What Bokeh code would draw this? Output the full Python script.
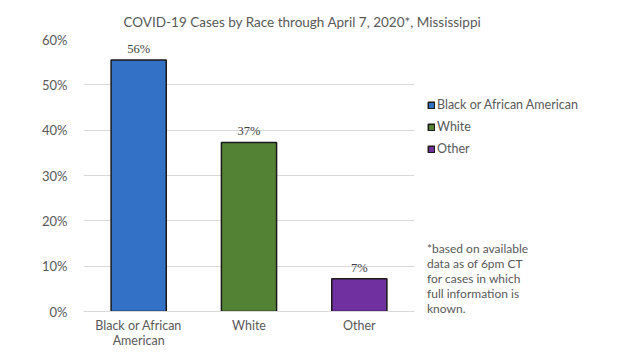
from bokeh.plotting import figure
from bokeh.models import ColumnDataSource, LabelSet, Legend, LegendItem, NumeralTickFormatter, FixedTicker, Range1d
from bokeh.embed import file_html
from bokeh.resources import INLINE

categories = ["Black or African\nAmerican", "White", "Other"]
legend_names = ["Black or African American", "White", "Other"]
shares = [0.555, 0.373, 0.072]
colors = ["#3271C6", "#548235", "#7030A0"]
y_ticks = [0, 0.1, 0.2, 0.3, 0.4, 0.5, 0.6]
title_text = "COVID-19 Cases by Race through April 7, 2020*, Mississippi"
footnote = "*based on available\ndata as of 6pm CT\nfor cases in which\nfull information is\nknown."

FONT = "Lato"
GRAY = "#595959"

src = ColumnDataSource(dict(cat=categories, val=shares, color=colors, name=legend_names,
                            lab=[f"{round(v*100)}%" for v in shares]))

p = figure(x_range=categories, frame_width=331, frame_height=272, output_backend="svg",
           toolbar_location=None, min_border_left=83, min_border_right=208,
           min_border_top=39, min_border_bottom=41)
p.y_range = Range1d(0, 0.6)
p.outline_line_color = None
p.background_fill_color = "white"

p.title.text = title_text
p.title.align = "left"
p.title.offset = 40
p.title.standoff = 19
p.title.text_font = FONT
p.title.text_font_size = "13.5px"
p.title.text_font_style = "normal"
p.title.text_color = GRAY

r = p.vbar(x="cat", top="val", width=0.5, source=src, fill_color="color",
           line_color="#1a1a1a", line_width=1.5)

p.xgrid.grid_line_color = None
p.ygrid.grid_line_color = "#d9d9d9"
p.ygrid.grid_line_width = 1

p.yaxis.ticker = FixedTicker(ticks=y_ticks)
p.yaxis.formatter = NumeralTickFormatter(format="0%")
p.yaxis.axis_line_color = None
p.yaxis.major_tick_line_color = None
p.yaxis.minor_tick_line_color = None
p.yaxis.major_label_text_font = FONT
p.yaxis.major_label_text_font_size = "13px"
p.yaxis.major_label_text_color = GRAY
p.yaxis.major_label_standoff = 10

p.xaxis.axis_line_color = "#d9d9d9"
p.xaxis.major_tick_line_color = None
p.xaxis.major_tick_out = 0
p.xaxis.major_tick_in = 0
p.xaxis.major_label_text_font = FONT
p.xaxis.major_label_text_font_size = "12.5px"
p.xaxis.major_label_text_color = GRAY
p.xaxis.major_label_text_line_height = 1.05
p.xaxis.major_label_standoff = 6

labels = LabelSet(x="cat", y="val", text="lab", source=src, text_align="center",
                  text_baseline="bottom", y_offset=4, text_font=FONT,
                  text_font_size="12.5px", text_color="#404040")
p.add_layout(labels)

items = [LegendItem(label=legend_names[i], renderers=[r], index=i) for i in range(3)]
legend = Legend(items=items, location=(13, -5), padding=0, margin=0,
                border_line_color=None, background_fill_alpha=0,
                glyph_width=8, glyph_height=8, label_height=14, spacing=7,
                label_standoff=2, label_text_font=FONT, label_text_font_size="12.5px",
                label_text_color=GRAY,
                title=footnote, title_location="below", title_standoff=85,
                title_text_font=FONT, title_text_font_size="12px",
                title_text_font_style="normal", title_text_color=GRAY)
p.add_layout(legend, "right")

open("out.html", "w").write(file_html(p, INLINE))
